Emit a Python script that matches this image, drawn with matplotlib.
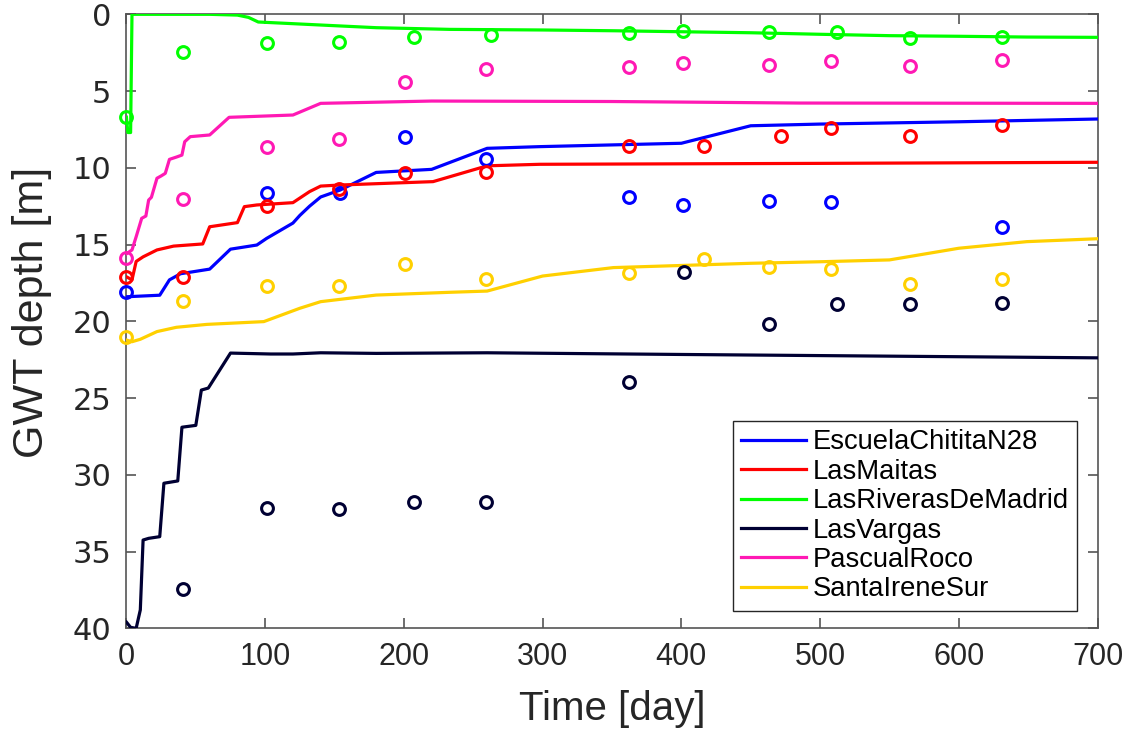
import matplotlib
matplotlib.use("Agg")
import matplotlib.pyplot as plt

plt.rcParams['font.family'] = ['Liberation Sans', 'DejaVu Sans']

# Simulated groundwater-table depth (m) per well
sim_escuela_t = [0, 24, 31, 39, 60, 75, 94, 101, 120, 125, 132, 140, 154, 180, 220, 260, 298, 400, 450, 500, 600, 700]
sim_escuela_d = [18.4, 18.3, 17.3, 16.9, 16.6, 15.3, 15.03, 14.6, 13.6, 13.1, 12.5, 11.9, 11.45, 10.3, 10.1, 8.73, 8.62, 8.4, 7.26, 7.15, 7.0, 6.82]

sim_maitas_t = [0, 4, 7, 12, 22, 34, 55, 60, 80, 85, 94, 120, 132, 140, 154, 221, 260, 298, 500, 700]
sim_maitas_d = [17.1, 17.3, 16.1, 15.8, 15.35, 15.1, 14.96, 13.84, 13.57, 12.53, 12.42, 12.27, 11.55, 11.19, 11.12, 10.9, 9.87, 9.77, 9.71, 9.64]

sim_riveras_t = [0, 1, 3, 4, 60, 80, 88, 95, 150, 180, 233, 300, 351, 450, 500, 550, 600, 649, 700]
sim_riveras_d = [6.7, 7.7, 7.7, 0.0, 0.0, 0.05, 0.2, 0.5, 0.74, 0.87, 0.98, 1.02, 1.07, 1.2, 1.3, 1.39, 1.43, 1.48, 1.5]

sim_vargas_t = [0, 3, 7, 10, 12, 16, 24, 27, 37, 40, 50, 54, 59, 75, 104, 120, 140, 180, 260, 400, 700]
sim_vargas_d = [39.6, 39.94, 40.0, 38.8, 34.25, 34.14, 34.03, 30.55, 30.4, 26.9, 26.78, 24.48, 24.35, 22.07, 22.13, 22.13, 22.05, 22.09, 22.05, 22.16, 22.38]

sim_pascual_t = [0, 4, 7, 11, 14, 16, 18, 22, 25, 28, 31, 36, 40, 42, 46, 60, 74, 120, 140, 220, 350, 485, 700]
sim_pascual_d = [15.6, 15.35, 14.49, 13.29, 13.14, 12.1, 11.92, 10.68, 10.53, 10.36, 9.45, 9.3, 9.17, 8.3, 7.97, 7.86, 6.71, 6.56, 5.8, 5.65, 5.68, 5.78, 5.8]

sim_irene_t = [0, 4, 10, 22, 36, 58, 99, 125, 140, 180, 233, 260, 300, 351, 450, 500, 550, 600, 649, 700]
sim_irene_d = [21.22, 21.33, 21.17, 20.67, 20.39, 20.2, 20.02, 19.15, 18.72, 18.29, 18.11, 18.03, 17.05, 16.5, 16.22, 16.12, 16.0, 15.24, 14.81, 14.62]

# Observed depths (m)
obs_escuela_t = [0, 101, 154, 201, 259, 362, 401, 463, 508, 631]
obs_escuela_d = [18.1, 11.66, 11.62, 7.97, 9.45, 11.92, 12.42, 12.14, 12.23, 13.88]

obs_maitas_t = [0, 41, 101, 153, 201, 259, 362, 416, 472, 508, 565, 631]
obs_maitas_d = [17.09, 17.13, 12.47, 11.38, 10.32, 10.3, 8.58, 8.56, 7.93, 7.43, 7.93, 7.21]

obs_riveras_t = [0, 41, 101, 153, 207, 263, 362, 401, 463, 512, 565, 631]
obs_riveras_d = [6.71, 2.44, 1.85, 1.8, 1.5, 1.37, 1.2, 1.07, 1.17, 1.13, 1.52, 1.5]

obs_vargas_t = [41, 101, 153, 207, 259, 362, 402, 463, 512, 565, 631]
obs_vargas_d = [37.46, 32.18, 32.25, 31.79, 31.77, 23.95, 16.77, 20.18, 18.87, 18.87, 18.83]

obs_pascual_t = [0, 41, 101, 153, 201, 259, 362, 401, 463, 508, 565, 631]
obs_pascual_d = [15.9, 12.03, 8.62, 8.14, 4.43, 3.58, 3.45, 3.15, 3.28, 3.06, 3.37, 2.98]

obs_irene_t = [0, 41, 101, 153, 201, 259, 362, 416, 463, 508, 565, 631]
obs_irene_d = [21.04, 18.68, 17.7, 17.7, 16.27, 17.24, 16.83, 15.92, 16.48, 16.57, 17.55, 17.27]

wells = ['EscuelaChititaN28', 'LasMaitas', 'LasRiverasDeMadrid', 'LasVargas', 'PascualRoco', 'SantaIreneSur']
colors = ['#0000ff', '#ff0000', '#00ff00', '#000033', '#ff19b4', '#ffd000']
sims = [(sim_escuela_t, sim_escuela_d), (sim_maitas_t, sim_maitas_d), (sim_riveras_t, sim_riveras_d),
        (sim_vargas_t, sim_vargas_d), (sim_pascual_t, sim_pascual_d), (sim_irene_t, sim_irene_d)]
obs = [(obs_escuela_t, obs_escuela_d), (obs_maitas_t, obs_maitas_d), (obs_riveras_t, obs_riveras_d),
       (obs_vargas_t, obs_vargas_d), (obs_pascual_t, obs_pascual_d), (obs_irene_t, obs_irene_d)]

fig = plt.figure(figsize=(11.33, 7.31), dpi=100)
ax = fig.add_axes([0.1116, 0.1405, 0.8571, 0.8399])

lines = []
for name, c, (st, sd) in zip(wells, colors, sims):
    ln, = ax.plot(st, sd, color=c, lw=2.3, label=name, zorder=3)
    lines.append(ln)
for c, (ot, od) in zip(colors, obs):
    ax.plot(ot, od, linestyle='none', marker='o', ms=8.5, mew=2.2,
            mfc='none', mec=c, clip_on=False, zorder=4)

ax.set_xlim(0, 700)
ax.set_ylim(40, 0)
ax.set_xticks(range(0, 701, 100))
ax.set_yticks(range(0, 41, 5))

for s in ax.spines.values():
    s.set_color('#555555')
    s.set_linewidth(1.2)
ax.tick_params(direction='in', length=7, width=1.2, color='#555555',
               top=True, right=True, labelcolor='#262626')
ax.tick_params(axis='x', labelsize=22, pad=10)
ax.tick_params(axis='y', labelsize=22, pad=11)
for lab in ax.get_yticklabels():
    lab.set_family(['DejaVu Sans'])

ax.set_xlabel('Time [day]', fontsize=29, color='#262626', labelpad=13)
ax.set_ylabel('GWT depth [m]', fontsize=31, color='#262626')
ax.yaxis.set_label_coords(-0.0765, 0.515)

leg = ax.legend(handles=lines, loc='lower right', bbox_to_anchor=(0.9786, 0.0287),
                borderaxespad=0, fontsize=19.7, frameon=True, fancybox=False,
                edgecolor='#262626', framealpha=1, handlelength=2.4,
                handletextpad=0.22, labelspacing=0.126, borderpad=0.3)
leg.get_frame().set_linewidth(1.0)

fig.savefig('out.png', dpi=100)
